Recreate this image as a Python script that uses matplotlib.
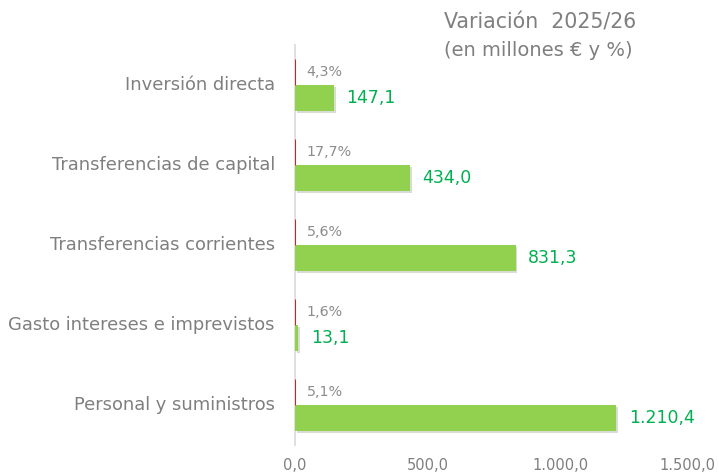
import matplotlib
matplotlib.use("Agg")
import matplotlib.pyplot as plt
import matplotlib.patheffects as pe
import matplotlib.transforms as mtransforms
import numpy as np

categories = ["Inversión directa", "Transferencias de capital", "Transferencias corrientes",
              "Gasto intereses e imprevistos", "Personal y suministros"]
variacion = [147.1, 434.0, 831.3, 13.1, 1210.4]
porcentaje = [4.3, 17.7, 5.6, 1.6, 5.1]
xticks = [0, 500, 1000, 1500]

def fmt_es(v, d=1):
    s = f"{v:,.{d}f}"
    return s.replace(",", "X").replace(".", ",").replace("X", ".")

plt.rcParams['font.family'] = ['DejaVu Sans']
fig = plt.figure(figsize=(7.19, 4.76), dpi=100)
ax = fig.add_axes([295/719, 31/476, (693-295)/719, 400/476])

y = np.arange(len(categories))
h = 0.33
shadow = [pe.SimplePatchShadow(offset=(1.2, -1.5), alpha=0.18), pe.Normal()]
ax.barh(y + 0.165, variacion, height=h, color="#92D050", path_effects=shadow, zorder=3)
ax.barh(y - 0.165, [p / 100 for p in porcentaje], height=h, color="#B0302F",
        edgecolor="#B0302F", linewidth=0.8, zorder=3)

for i, (v, p) in enumerate(zip(variacion, porcentaje)):
    ax.annotate(fmt_es(v), (v, i + 0.165), xytext=(9, 0), textcoords="offset points",
                va="center", ha="left", color="#00B050", fontsize=12.5)
    ax.annotate(fmt_es(p) + "%", (0, i - 0.16), xytext=(8.5, 0), textcoords="offset points",
                va="center", ha="left", color="#8C8C8C", fontsize=10.3)

ax.set_ylim(len(categories) - 0.5, -0.5)
ax.set_xlim(0, 1500)
ax.set_yticks(y)
ax.set_yticklabels(categories, fontsize=12.9, color="#7F7F7F")
ax.set_xticks(xticks)
ax.set_xticklabels([fmt_es(t) for t in xticks], fontsize=10.5, color="#7F7F7F")
ax.tick_params(axis="both", length=0)
ax.tick_params(axis="y", pad=14.5)
ax.tick_params(axis="x", pad=9)
for lab in ax.get_yticklabels():
    lab.set_transform(lab.get_transform() + mtransforms.ScaledTranslation(0, 1.5/100, fig.dpi_scale_trans))
last = ax.get_xticklabels()[-1]
last.set_transform(last.get_transform() + mtransforms.ScaledTranslation(-6/100, 0, fig.dpi_scale_trans))
for s in ["top", "right", "bottom"]:
    ax.spines[s].set_visible(False)
ax.spines["left"].set_color("#D9D9D9")
ax.spines["left"].set_linewidth(1.2)

fig.text(540/719, 1 - 22/476, "Variación  2025/26", ha="center", va="center",
         fontsize=14.8, color="#7F7F7F")
fig.text(538/719, 1 - 51/476, "(en millones € y %)", ha="center", va="center",
         fontsize=14, color="#7F7F7F")

fig.savefig("out.png", dpi=100)
